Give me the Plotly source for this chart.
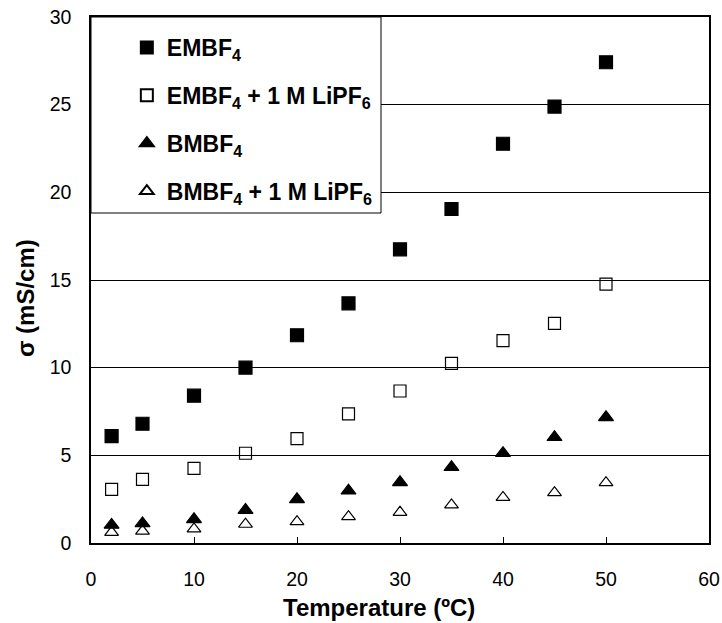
import plotly.graph_objects as go

temperature = [2, 5, 10, 15, 20, 25, 30, 35, 40, 45, 50]
embf4 = [6.1, 6.8, 8.4, 10.0, 11.85, 13.67, 16.75, 19.05, 22.77, 24.89, 27.42]
embf4_lipf6 = [3.06, 3.63, 4.26, 5.12, 5.95, 7.36, 8.67, 10.25, 11.54, 12.53, 14.77]
bmbf4 = [1.03, 1.12, 1.35, 1.88, 2.49, 2.98, 3.46, 4.32, 5.12, 6.03, 7.17]
bmbf4_lipf6 = [0.61, 0.68, 0.80, 1.07, 1.22, 1.50, 1.75, 2.17, 2.60, 2.87, 3.44]

series = [
    ("EMBF<sub>4</sub>", embf4, "square", "black", 13),
    ("EMBF<sub>4</sub> + 1 M LiPF<sub>6</sub>", embf4_lipf6, "square-open", "black", 12),
    ("BMBF<sub>4</sub>", bmbf4, "triangle-up", "black", 13),
    ("BMBF<sub>4</sub> + 1 M LiPF<sub>6</sub>", bmbf4_lipf6, "triangle-up-open", "black", 12),
]

fig = go.Figure()
for i, (name, vals, sym, col, sz) in enumerate(series):
    fig.add_trace(go.Scatter(
        x=temperature, y=vals, mode="markers", name=name,
        legendgroup=f"g{i}",
        marker=dict(symbol=sym, size=sz, color=col, line=dict(color="black", width=1.2)),
    ))

FONT = "Liberation Sans, Arial, sans-serif"
L, R, T, B = 91, 13, 17, 80
PW, PH = 722 - L - R, 623 - T - B

fig.update_layout(
    width=722, height=623,
    margin=dict(l=L, r=R, t=T, b=B, autoexpand=False),
    paper_bgcolor="white", plot_bgcolor="white",
    font=dict(family=FONT, size=19.5, color="black"),
    showlegend=True,
    legend=dict(
        x=0.058, y=0.983, xanchor="left", yanchor="top",
        bgcolor="rgba(0,0,0,0)", borderwidth=0,
        font=dict(family=FONT, size=23, color="black", weight="bold"),
        tracegroupgap=15, itemsizing="constant",
    ),
    shapes=[dict(
        type="rect", xref="paper", yref="paper",
        x0=0, x1=(381 - L) / PW, y0=(623 - B - 213) / PH, y1=1,
        fillcolor="white", line=dict(color="black", width=1), layer="above",
    )],
    annotations=[
        dict(text="<b>Temperature (ºC)</b>", xref="paper", yref="paper",
             x=(378.5 - L) / PW, y=(623 - B - 607) / PH, showarrow=False,
             xanchor="center", yanchor="middle", font=dict(family=FONT, size=24)),
        dict(text="<b>σ (mS/cm)</b>", xref="paper", yref="paper", textangle=-90,
             x=(25 - L) / PW, y=(623 - B - 298) / PH, showarrow=False,
             xanchor="center", yanchor="middle", font=dict(family=FONT, size=24)),
    ],
    xaxis=dict(
        range=[0, 60], dtick=10, tick0=0,
        showgrid=False, zeroline=False,
        showline=True, linecolor="black", linewidth=1.5, mirror=True,
        ticks="inside", ticklen=6, tickcolor="black",
        tickfont=dict(family=FONT, size=19.5), ticklabelstandoff=18,
    ),
    yaxis=dict(
        range=[0, 30], dtick=5, tick0=0,
        showgrid=True, gridcolor="black", gridwidth=1, zeroline=False,
        showline=True, linecolor="black", linewidth=1.5, mirror=True,
        ticks="inside", ticklen=6, tickcolor="black",
        tickfont=dict(family=FONT, size=19.5), ticklabelstandoff=14,
    ),
)

fig.write_html("out.html", config={"displayModeBar": False},
               post_script="document.body.style.margin='0px';")
